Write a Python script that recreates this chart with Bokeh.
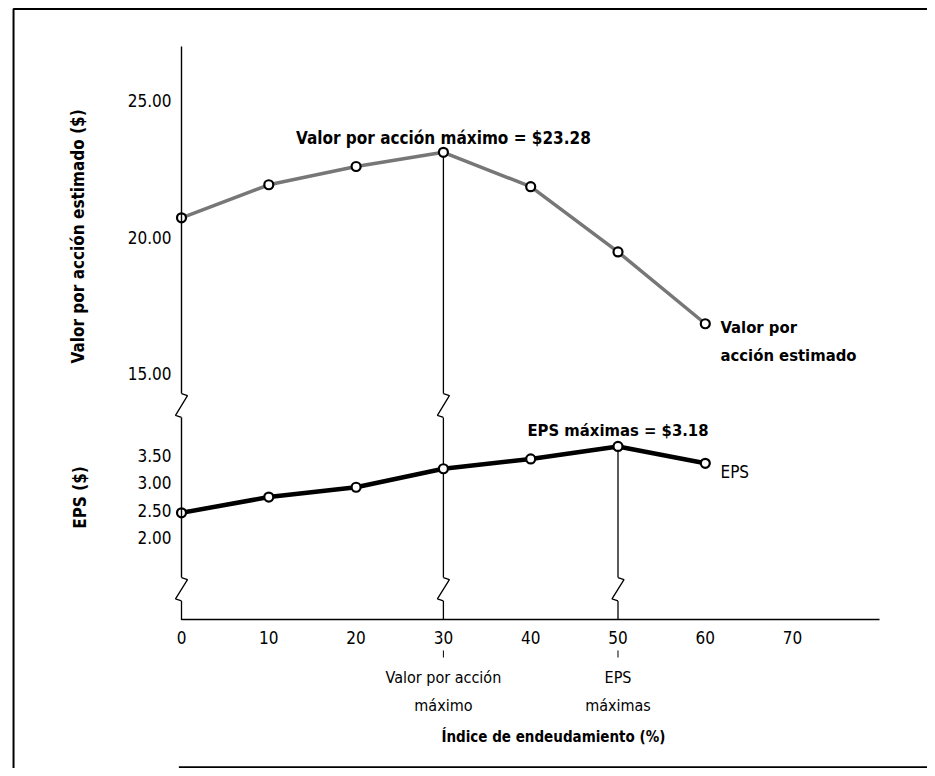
import math
from bokeh.plotting import figure
from bokeh.models import (Range1d, LinearAxis, FixedTicker, Label,
                          ColumnDataSource, NumeralTickFormatter)
from bokeh.embed import file_html
from bokeh.resources import INLINE

# ---------------- data ----------------
debt_ratio = [0, 10, 20, 30, 40, 50, 60]
share_value = [20.71, 21.92, 22.59, 23.11, 21.85, 19.46, 16.83]
eps = [2.45, 2.74, 2.92, 3.26, 3.44, 3.67, 3.36]
x_ticks = [0, 10, 20, 30, 40, 50, 60, 70]
value_ticks = [15, 20, 25]
eps_ticks = [2.0, 2.5, 3.0, 3.5]
max_value_ratio = 30
max_value = 23.11
max_eps_ratio = 50
max_eps = 3.67
max_value_label = "Valor por acción máximo = $23.28"
max_eps_label = "EPS máximas = $3.18"

FONT = "DejaVu Sans Condensed"

W, H = 927, 768
p = figure(width=W, height=H, output_backend="svg", toolbar_location=None,
           x_range=Range1d(-20.733, 85.453), y_range=Range1d(0.538, 28.670),
           x_axis_type=None, y_axis_type=None, title=None,
           min_border=0, min_border_left=0, min_border_right=0,
           min_border_top=0, min_border_bottom=0)
p.extra_y_ranges = {"eps": Range1d(-2.250, 11.868)}
p.outline_line_color = None
p.background_fill_color = "white"
p.border_fill_color = "white"

# scanned-page frame (left, top, bottom edges; right edge lies off the page)
p.line([120, -19.24, -19.24], [28.36, 28.36, -5], line_color="black", line_width=2)
p.line([-0.3, 120], [0.58, 0.58], line_color="black", line_width=2)

# ---------------- axes ----------------
def style_axis(ax, size):
    ax.major_tick_in = 0
    ax.major_tick_out = 0
    ax.minor_tick_in = 0
    ax.minor_tick_out = 0
    ax.major_tick_line_color = None
    ax.minor_tick_line_color = None
    ax.axis_line_color = "black"
    ax.axis_line_width = 1.4
    ax.major_label_text_font = FONT
    ax.major_label_text_font_size = size
    ax.major_label_text_color = "black"

ax_v = LinearAxis(ticker=FixedTicker(ticks=value_ticks), fixed_location=0,
                  bounds=(14.27, 27.0), formatter=NumeralTickFormatter(format="0.00"))
style_axis(ax_v, "17px")
ax_v.major_label_standoff = 10
p.add_layout(ax_v, "left")

ax_e = LinearAxis(ticker=FixedTicker(ticks=eps_ticks), fixed_location=0, y_range_name="eps",
                  bounds=(1.26, 4.20), formatter=NumeralTickFormatter(format="0.00"),
                  axis_label="EPS ($)")
style_axis(ax_e, "17px")
ax_e.major_label_standoff = 10
ax_e.axis_label_text_font = FONT
ax_e.axis_label_text_font_size = "17px"
ax_e.axis_label_text_font_style = "bold"
ax_e.axis_label_text_color = "black"
ax_e.axis_label_standoff = 44
p.add_layout(ax_e, "left")

ax_x = LinearAxis(ticker=FixedTicker(ticks=x_ticks), fixed_location=0.48, y_range_name="eps",
                  bounds=(0, 80))
style_axis(ax_x, "17px")
ax_x.major_label_standoff = 11
p.add_layout(ax_x, "below")

# ---------------- vertical guide lines with axis breaks ----------------
PX_X = 8.73      # px per x unit
PX_V = 27.3      # px per value unit
PX_E = 54.4      # px per eps unit

def zigzag(x0, y_top, y_bot, px_y):
    dx = 6 / PX_X
    dy = 2 / px_y
    return [x0, x0 + dx, x0 - dx, x0], [y_top, y_top - dy, y_bot + dy, y_bot]

V_BREAK = (14.27, 13.40)
E_BREAK = (1.26, 0.83)
X_AXIS_E = 0.48
E_TOP = 4.20

guide = dict(line_color="black", line_width=1.3)
# x = 0: pieces not covered by the axis lines
zx, zy = zigzag(0, *V_BREAK, PX_V)
p.line(zx, zy, **guide)
zx, zy = zigzag(0, *E_BREAK, PX_E)
p.line(zx, zy, y_range_name="eps", **guide)
p.line([0, 0], [E_BREAK[1], X_AXIS_E], y_range_name="eps", **guide)

# x = 30 (max share value)
xm = max_value_ratio
p.line([xm, xm], [max_value, V_BREAK[0]], **guide)
zx, zy = zigzag(xm, *V_BREAK, PX_V)
p.line(zx, zy, **guide)
p.line([xm, xm], [E_TOP, E_BREAK[0]], y_range_name="eps", **guide)
zx, zy = zigzag(xm, *E_BREAK, PX_E)
p.line(zx, zy, y_range_name="eps", **guide)
p.line([xm, xm], [E_BREAK[1], X_AXIS_E], y_range_name="eps", **guide)

# x = 50 (max EPS)
xe = max_eps_ratio
p.line([xe, xe], [max_eps, E_BREAK[0]], y_range_name="eps", **guide)
zx, zy = zigzag(xe, *E_BREAK, PX_E)
p.line(zx, zy, y_range_name="eps", **guide)
p.line([xe, xe], [E_BREAK[1], X_AXIS_E], y_range_name="eps", **guide)

# little connectors under the 30 and 50 tick labels
p.segment(x0=[xm, xe], y0=[-0.08, -0.08], x1=[xm, xe], y1=[-0.21, -0.21],
          y_range_name="eps", line_color="black", line_width=1)

# ---------------- data series ----------------
src = ColumnDataSource(dict(x=debt_ratio, v=share_value, e=eps))
p.line("x", "v", source=src, line_color="#777777", line_width=3.5)
p.line("x", "e", source=src, y_range_name="eps", line_color="black", line_width=4.5)
p.scatter("x", "v", source=src, size=9, fill_color="white", line_color="black", line_width=2.2)
p.scatter("x", "e", source=src, y_range_name="eps", size=9, fill_color="white",
          line_color="black", line_width=2.2)

# ---------------- texts ----------------
def lab(text, x, y, size, bold=False, align="left", baseline="alphabetic", rng="default", angle=0):
    p.add_layout(Label(text=text, x=x, y=y, y_range_name=rng, text_font=FONT,
                       text_font_size=size, text_font_style="bold" if bold else "normal",
                       text_align=align, text_baseline=baseline, text_color="black",
                       angle=angle))

lab(max_value_label, max_value_ratio, 23.65, "17px", bold=True, align="center")
lab("Valor por", 61.74, 16.70, "16.5px", bold=True)
lab("acción estimado", 61.74, 15.67, "16.5px", bold=True)
lab(max_eps_label, max_eps_ratio, 3.963, "16.5px", bold=True, align="center", rng="eps")
lab("EPS", 61.74, 3.197, "17px", rng="eps")
lab("Valor por acción", max_value_ratio, -0.572, "16px", align="center", rng="eps")
lab("máximo", max_value_ratio, -1.092, "16px", align="center", rng="eps")
lab("EPS", max_eps_ratio, -0.572, "16px", align="center", rng="eps")
lab("máximas", max_eps_ratio, -1.092, "16px", align="center", rng="eps")
lab("Índice de endeudamiento (%)", 42.6, -1.675, "15px", bold=True, align="center", rng="eps")
lab("Valor por acción estimado ($)", -11.86, 20.03, "17px", bold=True, align="center",
    baseline="middle", angle=math.pi / 2)

open("out.html", "w").write(file_html(p, INLINE))
